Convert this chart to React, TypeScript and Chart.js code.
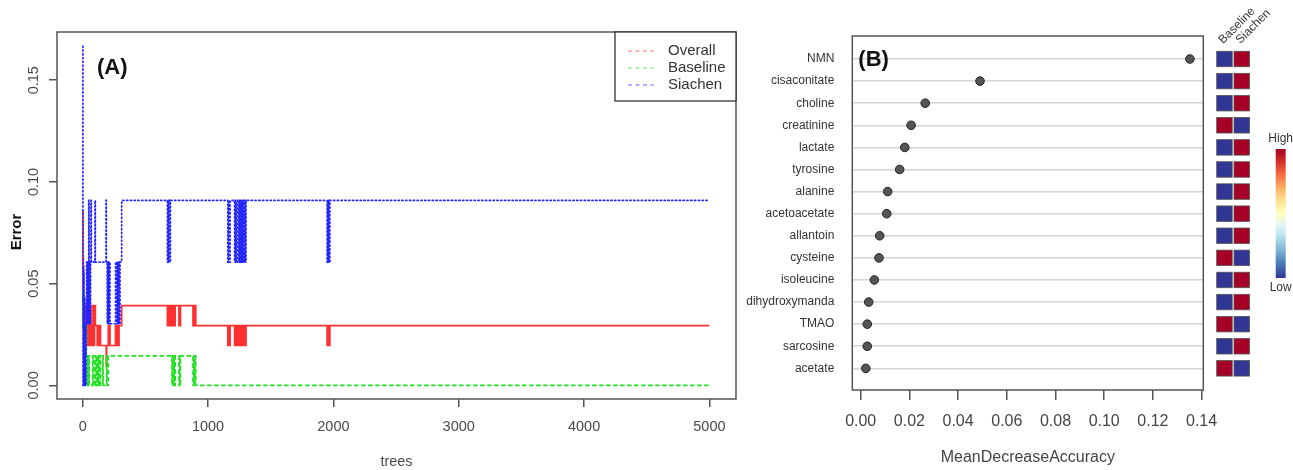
import React, { useEffect, useRef } from "react";
import { Chart, registerables } from "chart.js";

Chart.register(...registerables);

const FONT = "'Liberation Sans', Arial, Helvetica, sans-serif";

// ---------- Panel A: random forest error vs trees ----------
const treeTicks = [0, 1000, 2000, 3000, 4000, 5000];
const errorTicks = [0, 0.05, 0.1, 0.15];
const seriesNames = ["Overall", "Baseline", "Siachen"];
const seriesColors = ["#ff3030", "#22e022", "#2424ff"];

// [tree, error] change points (value holds until next change point)
const overallSteps: [number, number][] = [
  [1, 0.0857], [2, 0.0541], [3, 0.0408], [4, 0.0635], [5, 0.0455], [6, 0.0357],
  [8, 0.0444], [10, 0.0306], [13, 0.0392], [16, 0.0294], [19, 0.0392], [22, 0.0294],
  [26, 0.0392], [29, 0.0294], [32, 0.0196], [35, 0.0294], [38, 0.0196], [41, 0.0294],
  [44, 0.0392], [47, 0.0294], [50, 0.0196], [53, 0.0294], [56, 0.0196], [59, 0.0294],
  [62, 0.0392], [66, 0.0196], [70, 0.0294], [74, 0.0196], [78, 0.0294], [82, 0.0392],
  [86, 0.0294], [90, 0.0196], [94, 0.0294], [98, 0.0392], [101, 0.0294], [116, 0.0196],
  [124, 0.0294], [128, 0.0196], [138, 0.0294], [142, 0.0196], [188, 0.0098], [191, 0.0196],
  [204, 0.0294], [208, 0.0196], [214, 0.0294], [218, 0.0196], [262, 0.0294], [270, 0.0196],
  [276, 0.0294], [284, 0.0196], [290, 0.0294], [311, 0.0392],
  [676, 0.0294], [680, 0.0392], [684, 0.0294], [688, 0.0392], [692, 0.0294], [700, 0.0392],
  [712, 0.0294], [716, 0.0392], [724, 0.0294], [728, 0.0392], [734, 0.0294], [738, 0.0392],
  [768, 0.0294], [772, 0.0392], [776, 0.0294], [780, 0.0392],
  [880, 0.0294], [886, 0.0392], [890, 0.0294], [896, 0.0392], [902, 0.0294],
  [1158, 0.0196], [1164, 0.0294], [1168, 0.0196], [1176, 0.0294],
  [1212, 0.0196], [1218, 0.0294], [1224, 0.0196], [1234, 0.0294],
  [1246, 0.0196], [1250, 0.0294], [1254, 0.0196], [1258, 0.0294], [1262, 0.0196],
  [1266, 0.0294], [1270, 0.0196], [1274, 0.0294], [1278, 0.0196], [1284, 0.0294],
  [1288, 0.0196], [1294, 0.0294], [1298, 0.0196], [1303, 0.0294],
  [1950, 0.0196], [1954, 0.0294], [1958, 0.0196], [1962, 0.0294], [1966, 0.0196],
  [1972, 0.0294], [5000, 0.0294],
];

const baselineSteps: [number, number][] = [
  [1, 0.0435], [2, 0.0286], [3, 0.0465], [4, 0.0294], [6, 0.0385], [8, 0.0154],
  [11, 0.0303], [14, 0.0147], [18, 0.0294], [22, 0.0145], [26, 0.029], [30, 0.0145],
  [36, 0], [40, 0.0145], [44, 0], [48, 0.0145], [52, 0], [80, 0.0145], [84, 0],
  [98, 0.0145], [102, 0], [112, 0.0145], [116, 0], [124, 0.0145], [128, 0],
  [138, 0.0145], [142, 0], [160, 0.0145], [164, 0], [191, 0.0145], [195, 0],
  [204, 0.0145],
  [712, 0], [716, 0.0145], [724, 0], [728, 0.0145], [734, 0], [738, 0.0145],
  [768, 0], [772, 0.0145], [776, 0], [780, 0.0145],
  [880, 0], [886, 0.0145], [890, 0], [896, 0.0145], [902, 0], [5000, 0],
];

const siachenSteps: [number, number][] = [
  [1, 0.1667], [2, 0.0833], [3, 0], [5, 0.0588], [7, 0], [9, 0.0556], [11, 0],
  [14, 0.0435], [17, 0], [20, 0.0303], [24, 0], [27, 0.0303], [31, 0.0606],
  [34, 0.0303], [37, 0.0606], [40, 0.0303], [43, 0.0606], [46, 0.0303], [48, 0.0909],
  [51, 0.0606], [54, 0.0303], [57, 0.0606], [60, 0.0303], [63, 0.0606], [66, 0.0909],
  [69, 0.0606], [98, 0.0909], [101, 0.0606], [186, 0.0909], [189, 0.0606],
  [196, 0.0303], [199, 0.0606], [203, 0.0303], [206, 0.0606], [210, 0.0303],
  [213, 0.0606], [218, 0.0303], [262, 0.0606], [268, 0.0303], [274, 0.0606],
  [280, 0.0303], [286, 0.0606], [292, 0.0303], [298, 0.0606], [311, 0.0909],
  [676, 0.0606], [680, 0.0909], [684, 0.0606], [688, 0.0909], [692, 0.0606], [700, 0.0909],
  [1158, 0.0606], [1164, 0.0909], [1168, 0.0606], [1176, 0.0909],
  [1212, 0.0606], [1218, 0.0909], [1224, 0.0606], [1234, 0.0909],
  [1246, 0.0606], [1250, 0.0909], [1254, 0.0606], [1258, 0.0909], [1262, 0.0606],
  [1266, 0.0909], [1270, 0.0606], [1274, 0.0909], [1278, 0.0606], [1284, 0.0909],
  [1288, 0.0606], [1294, 0.0909], [1298, 0.0606], [1303, 0.0909],
  [1950, 0.0606], [1954, 0.0909], [1958, 0.0606], [1962, 0.0909], [1966, 0.0606],
  [1972, 0.0909], [5000, 0.0909],
];

// ---------- Panel B: variable importance ----------
const metabolites = [
  "NMN", "cisaconitate", "choline", "creatinine", "lactate", "tyrosine", "alanine",
  "acetoacetate", "allantoin", "cysteine", "isoleucine", "dihydroxymanda", "TMAO",
  "sarcosine", "acetate",
];
const meanDecreaseAccuracy = [
  0.1352, 0.049, 0.0265, 0.0207, 0.0181, 0.016, 0.0111, 0.0107, 0.0078, 0.0075,
  0.0056, 0.0033, 0.0027, 0.0027, 0.0021,
];
const accuracyTicks = [0, 0.02, 0.04, 0.06, 0.08, 0.1, 0.12, 0.14];
const groupNames = ["Baseline", "Siachen"];
const baselineLevel = ["low", "low", "low", "high", "low", "low", "low", "low", "low", "high", "low", "low", "high", "low", "high"];
const siachenLevel = ["high", "high", "high", "low", "high", "high", "high", "high", "high", "low", "high", "high", "low", "high", "low"];
const levelColors: Record<string, string> = { high: "#a50026", low: "#313695" };
const scaleStops = ["#a50026", "#d73027", "#f46d43", "#fdae61", "#fee090", "#ffffbf", "#e0f3f8", "#abd9e9", "#74add1", "#4575b4", "#313695"];
const scaleLabels = ["High", "Low"];

const leftDecor = {
  id: "leftDecor",
  afterDraw(chart: any) {
    const { ctx, chartArea: a, scales } = chart;
    ctx.save();
    ctx.strokeStyle = "#555";
    ctx.lineWidth = 1.5;
    ctx.strokeRect(a.left, a.top, a.right - a.left, a.bottom - a.top);

    // rotated y tick labels
    ctx.fillStyle = "#4a4a4a";
    ctx.font = `14.5px ${FONT}`;
    ctx.textAlign = "center";
    ctx.textBaseline = "middle";
    scales.y.ticks.forEach((t: any) => {
      const y = scales.y.getPixelForValue(t.value);
      ctx.save();
      ctx.translate(a.left - 23, y);
      ctx.rotate(-Math.PI / 2);
      ctx.fillText(Number(t.value).toFixed(2), 0, 0);
      ctx.restore();
    });

    // axis titles
    ctx.save();
    ctx.font = `bold 15px ${FONT}`;
    ctx.fillStyle = "#111";
    ctx.translate(17, 232);
    ctx.rotate(-Math.PI / 2);
    ctx.fillText("Error", 0, 0);
    ctx.restore();
    ctx.font = `14.5px ${FONT}`;
    ctx.fillStyle = "#4a4a4a";
    ctx.fillText("trees", (a.left + a.right) / 2, 462);

    // panel tag
    ctx.font = `bold 22px ${FONT}`;
    ctx.fillStyle = "#111";
    ctx.textAlign = "left";
    ctx.fillText("(A)", 97, 68);

    // legend
    const bw = 121, bh = 69;
    const bx = a.right - bw, by = a.top;
    ctx.fillStyle = "#fff";
    ctx.fillRect(bx, by, bw, bh);
    ctx.strokeStyle = "#333";
    ctx.lineWidth = 1.3;
    ctx.strokeRect(bx, by, bw, bh);
    ctx.font = `15px ${FONT}`;
    ctx.textBaseline = "middle";
    seriesNames.forEach((name, i) => {
      const y = by + 19 + i * 17;
      ctx.save();
      ctx.strokeStyle = seriesColors[i];
      ctx.globalAlpha = 0.7;
      ctx.lineWidth = 1.2;
      ctx.setLineDash([4, 3.5]);
      ctx.beginPath();
      ctx.moveTo(bx + 13, y);
      ctx.lineTo(bx + 39, y);
      ctx.stroke();
      ctx.restore();
      ctx.fillStyle = "#333";
      ctx.fillText(name, bx + 53, y);
    });
    ctx.restore();
  },
};

const rightDecor = {
  id: "rightDecor",
  afterDraw(chart: any) {
    const { ctx, chartArea: a, scales } = chart;
    ctx.save();
    ctx.strokeStyle = "#555";
    ctx.lineWidth = 1.5;
    ctx.strokeRect(a.left, a.top, a.right - a.left, a.bottom - a.top);

    // panel tag
    ctx.font = `bold 22px ${FONT}`;
    ctx.fillStyle = "#111";
    ctx.textAlign = "left";
    ctx.textBaseline = "middle";
    ctx.fillText("(B)", a.left + 6, 60);

    // x title
    ctx.font = `16px ${FONT}`;
    ctx.fillStyle = "#444";
    ctx.textAlign = "center";
    ctx.fillText("MeanDecreaseAccuracy", (a.left + a.right) / 2, 458);

    // heatmap cells
    const cell = 15.5;
    const colX = [a.right + 13.4, a.right + 30.7];
    const levels = [baselineLevel, siachenLevel];
    metabolites.forEach((_, i) => {
      const y = scales.y.getPixelForValue(i);
      levels.forEach((lv, g) => {
        ctx.fillStyle = levelColors[lv[i]];
        ctx.fillRect(colX[g], y - cell / 2, cell, cell);
        ctx.strokeStyle = "#555";
        ctx.lineWidth = 0.8;
        ctx.strokeRect(colX[g], y - cell / 2, cell, cell);
      });
    });

    // column headers
    ctx.font = `12px ${FONT}`;
    ctx.fillStyle = "#333";
    ctx.textAlign = "left";
    ctx.textBaseline = "middle";
    groupNames.forEach((g, k) => {
      ctx.save();
      ctx.translate(colX[k] + 4, 42);
      ctx.rotate(-Math.PI / 4);
      ctx.fillText(g, 0, 0);
      ctx.restore();
    });

    // colour key
    const kx = a.right + 72.4, ky = 149, kw = 10, kh = 129;
    const grad = ctx.createLinearGradient(0, ky, 0, ky + kh);
    scaleStops.forEach((c, i) => grad.addColorStop(i / (scaleStops.length - 1), c));
    ctx.fillStyle = grad;
    ctx.fillRect(kx, ky, kw, kh);
    ctx.fillStyle = "#333";
    ctx.textAlign = "center";
    ctx.font = `12px ${FONT}`;
    ctx.fillText(scaleLabels[0], kx + kw / 2, 139);
    ctx.fillText(scaleLabels[1], kx + kw / 2, 288);
    ctx.restore();
  },
};

export default function App() {
  const leftRef = useRef<HTMLCanvasElement>(null);
  const rightRef = useRef<HTMLCanvasElement>(null);

  useEffect(() => {
    const stepSeries = [overallSteps, baselineSteps, siachenSteps];
    const dashes = [[], [4.5, 2.5], [1.2, 2.6]];
    const widths = [1.7, 1.7, 1.7];
    const orders = [2, 1, 0];

    const left = new Chart(leftRef.current!, {
      type: "line",
      data: {
        datasets: seriesNames.map((name, i) => ({
          label: name,
          data: stepSeries[i].map(([x, y]) => ({ x, y })),
          borderColor: seriesColors[i],
          borderWidth: widths[i],
          borderDash: dashes[i],
          borderCapStyle: i === 2 ? "round" : "butt",
          stepped: true,
          pointRadius: 0,
          fill: false,
          order: orders[i],
        })),
      },
      options: {
        responsive: false,
        animation: false,
        events: [],
        layout: { padding: { left: 0, top: 32, right: 4, bottom: 0 } },
        plugins: { legend: { display: false }, tooltip: { enabled: false } },
        scales: {
          x: {
            type: "linear",
            min: -205,
            max: 5212,
            afterBuildTicks: (s: any) => {
              s.ticks = treeTicks.map((v) => ({ value: v }));
            },
            afterFit: (s: any) => {
              s.height = 71;
            },
            ticks: {
              callback: (v: any) => String(v),
              font: { family: FONT, size: 14.5 },
              color: "#4a4a4a",
              padding: 11,
              maxRotation: 0,
              autoSkip: false,
            },
            grid: { drawOnChartArea: false, tickLength: 8, color: "#555", lineWidth: 1.5 },
            border: { display: false },
          },
          y: {
            type: "linear",
            min: -0.0067,
            max: 0.1737,
            afterBuildTicks: (s: any) => {
              s.ticks = errorTicks.map((v) => ({ value: v }));
            },
            afterFit: (s: any) => {
              s.width = 57;
            },
            ticks: { display: false },
            grid: { drawOnChartArea: false, tickLength: 8, color: "#555", lineWidth: 1.5 },
            border: { display: false },
          },
        },
      } as any,
      plugins: [leftDecor],
    });

    const right = new Chart(rightRef.current!, {
      type: "scatter",
      data: {
        datasets: [
          {
            label: "MeanDecreaseAccuracy",
            data: meanDecreaseAccuracy.map((v, i) => ({ x: v, y: i })),
            pointRadius: 4.3,
            backgroundColor: "#555",
            borderColor: "#222",
            borderWidth: 1,
          },
        ],
      },
      options: {
        responsive: false,
        animation: false,
        events: [],
        layout: { padding: { left: 0, top: 36, right: 89.7, bottom: 0 } },
        plugins: { legend: { display: false }, tooltip: { enabled: false } },
        scales: {
          x: {
            type: "linear",
            min: -0.00345,
            max: 0.1407,
            afterBuildTicks: (s: any) => {
              s.ticks = accuracyTicks.map((v) => ({ value: v }));
            },
            afterFit: (s: any) => {
              s.height = 80;
            },
            ticks: {
              callback: (v: any) => Number(v).toFixed(2),
              font: { family: FONT, size: 16 },
              color: "#444",
              padding: 12,
              maxRotation: 0,
              autoSkip: false,
            },
            grid: { drawOnChartArea: false, tickLength: 10, color: "#555", lineWidth: 1.5 },
            border: { display: false },
          },
          y: {
            type: "linear",
            reverse: true,
            min: -1.041,
            max: 14.98,
            afterBuildTicks: (s: any) => {
              s.ticks = metabolites.map((_, i) => ({ value: i }));
            },
            afterFit: (s: any) => {
              s.width = 112.3;
            },
            ticks: {
              callback: (v: any) => metabolites[v],
              font: { family: FONT, size: 12 },
              color: "#333",
              padding: 18,
              autoSkip: false,
            },
            grid: { drawTicks: false, color: "#d4d4d4", lineWidth: 1.5 },
            border: { display: false },
          },
        },
      } as any,
      plugins: [rightDecor],
    });

    return () => {
      left.destroy();
      right.destroy();
    };
  }, []);

  return (
    <div style={{ position: "absolute", left: 0, top: 0, width: 1293, height: 470, background: "#fff" }}>
      <canvas ref={leftRef} width={740} height={470} style={{ position: "absolute", left: 0, top: 0 }} />
      <canvas ref={rightRef} width={553} height={470} style={{ position: "absolute", left: 740, top: 0 }} />
    </div>
  );
}
